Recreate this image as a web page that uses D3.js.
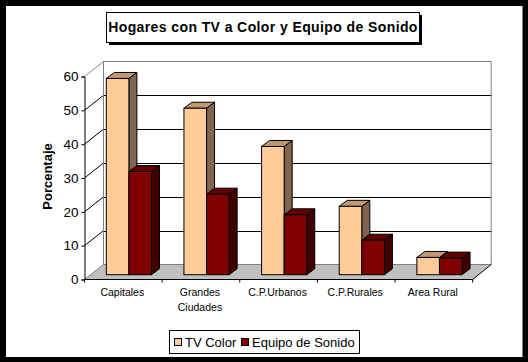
<!DOCTYPE html>
<html><head><meta charset="utf-8">
<script src="https://cdn.jsdelivr.net/npm/d3@7"></script>
<style>html,body{margin:0;padding:0;background:#000}svg{display:block}text{font-family:"Liberation Sans",Arial,sans-serif;fill:#000}</style>
</head><body><div id="c"></div>
<script>
const categories=[["Capitales"],["Grandes","Ciudades"],["C.P.Urbanos"],["C.P.Rurales"],["Area Rural"]];
const tvColor=[58,49.2,37.9,20.2,5.1];
const equipoSonido=[30.5,23.8,17.7,10.2,4.9];
const seriesNames=["TV Color","Equipo de Sonido"];
const yTicks=[0,10,20,30,40,50,60];
const titleText="Hogares con TV a Color y Equipo de Sonido";
const yLabel="Porcentaje";

const W=528,H=362;
const svg=d3.select("#c").append("svg").attr("width",W).attr("height",H);
svg.append("rect").attr("width",W).attr("height",H).attr("fill","#000");
svg.append("rect").attr("x",6).attr("y",6).attr("width",516.5).attr("height",351).attr("fill","#fff");

const x0=d3.scaleBand().domain(d3.range(5)).range([84.5,472.7]);
const y=d3.scaleLinear().domain([0,60]).range([279.5,76.5]);
const DX=19,DY=-15;
const xL=x0.range()[0],xR=x0.range()[1];

// walls and floor
const line=d3.line();
svg.append("path").attr("d",line([[xL,y(0)],[xL+DX,y(0)+DY],[xR+DX-.5,y(0)+DY],[xR,y(0)]])+"Z").attr("fill","#c0c0c0");
yTicks.forEach(t=>{
  const top=t===60, base=t===0;
  if(!base) svg.append("path").attr("d",line([[xL,y(t)],[xL+DX,y(t)+DY]])).attr("fill","none").attr("stroke",top?"#808080":"#000");
  if(!base&&!top) svg.append("line").attr("x1",xL+DX).attr("x2",xR+DX).attr("y1",Math.round(y(t)+DY)+.5).attr("y2",Math.round(y(t)+DY)+.5).attr("stroke","#000");
});
svg.append("path").attr("d",line([[xL+DX,y(0)+DY],[xL+DX,y(60)+DY],[xR+DX-.5,y(60)+DY],[xR+DX-.5,y(0)+DY]])).attr("fill","none").attr("stroke","#808080");
svg.append("path").attr("d",line([[xL+DX,y(0)+DY],[xR+DX-.5,y(0)+DY]])).attr("fill","none").attr("stroke","#808080");
svg.append("path").attr("d",line([[xL,y(0)],[xL+DX,y(0)+DY]])).attr("fill","none").attr("stroke","#808080");
svg.append("path").attr("d",line([[xR,y(0)],[xR+DX-.5,y(0)+DY]])).attr("fill","none").attr("stroke","#000");

// 3D bars
const bw=22.6, bdx=8, bdy=-6, offX=21.8, offZ=-4.8;
const colours=[{f:"#ffcc99",t:"#bf9973",s:"#806650"},{f:"#800000",t:"#600000",s:"#400000"}];
const seriesVals=[tvColor,equipoSonido];
const bars=[];
d3.range(5).forEach(i=>seriesVals.forEach((vals,s)=>bars.push({i,s,v:vals[i]})));
const g=svg.append("g").attr("stroke","#000").attr("stroke-linejoin","miter");
g.selectAll("g").data(bars).join("g").each(function(d){
  const x=x0(d.i)+offX+d.s*bw, b=y(0)+offZ, h=y(0)-y(d.v), t=b-h, c=colours[d.s], sel=d3.select(this);
  sel.append("path").attr("d",line([[x+bw,b],[x+bw+bdx,b+bdy],[x+bw+bdx,t+bdy],[x+bw,t]])+"Z").attr("fill",c.s);
  sel.append("path").attr("d",line([[x,t],[x+bdx,t+bdy],[x+bw+bdx,t+bdy],[x+bw,t]])+"Z").attr("fill",c.t);
  sel.append("rect").attr("x",x).attr("y",t).attr("width",bw).attr("height",h).attr("fill",c.f);
});

// axes
const axL=svg.append("g").attr("transform",`translate(${xL},0)`)
  .call(d3.axisLeft(y).tickValues(yTicks).tickSize(3).tickPadding(3));
axL.selectAll("path,line").attr("stroke","#000");
axL.selectAll("text").attr("font-size",13.5).style("font-family",'"Liberation Sans",Arial,sans-serif');
const xTickVals=d3.range(6).map(i=>xL+i*x0.step());
svg.append("line").attr("x1",xL).attr("x2",xR).attr("y1",y(0)).attr("y2",y(0)).attr("stroke","#000");
svg.selectAll(".xt").data(xTickVals).join("line").attr("x1",d=>d).attr("x2",d=>d).attr("y1",y(0)).attr("y2",y(0)+3).attr("stroke","#000");
svg.selectAll(".xl").data(categories).join("text").attr("text-anchor","middle").attr("font-size",10.5)
  .each(function(d,i){
    d3.select(this).selectAll("tspan").data(d).join("tspan")
      .attr("x",x0(i)+x0.bandwidth()/2-1).attr("y",(_,k)=>296+k*15).text(t=>t);
  });

// y label
svg.append("text").attr("transform","translate(52,176.5) rotate(-90)").attr("text-anchor","middle")
  .attr("font-size",13).attr("font-weight","bold").text(yLabel);

// title
svg.append("rect").attr("x",109).attr("y",15).attr("width",313).attr("height",30).attr("fill","#000");
svg.append("rect").attr("x",106.5).attr("y",12.5).attr("width",313).attr("height",30).attr("fill","#fff").attr("stroke","#000");
svg.append("text").attr("x",263).attr("y",32).attr("text-anchor","middle").attr("font-size",14).attr("font-weight","bold")
  .attr("letter-spacing",.4).text(titleText);

// legend
svg.append("rect").attr("x",169.5).attr("y",330.5).attr("width",190).attr("height",23).attr("fill","#fff").attr("stroke","#000");
const lx=[174.5,241.5], tx=[185,252];
seriesNames.forEach((n,i)=>{
  svg.append("rect").attr("x",lx[i]).attr("y",338.5).attr("width",7).attr("height",7).attr("fill",colours[i].f).attr("stroke","#000");
  svg.append("text").attr("x",tx[i]).attr("y",346.5).attr("font-size",13).text(n);
});
</script></body></html>
